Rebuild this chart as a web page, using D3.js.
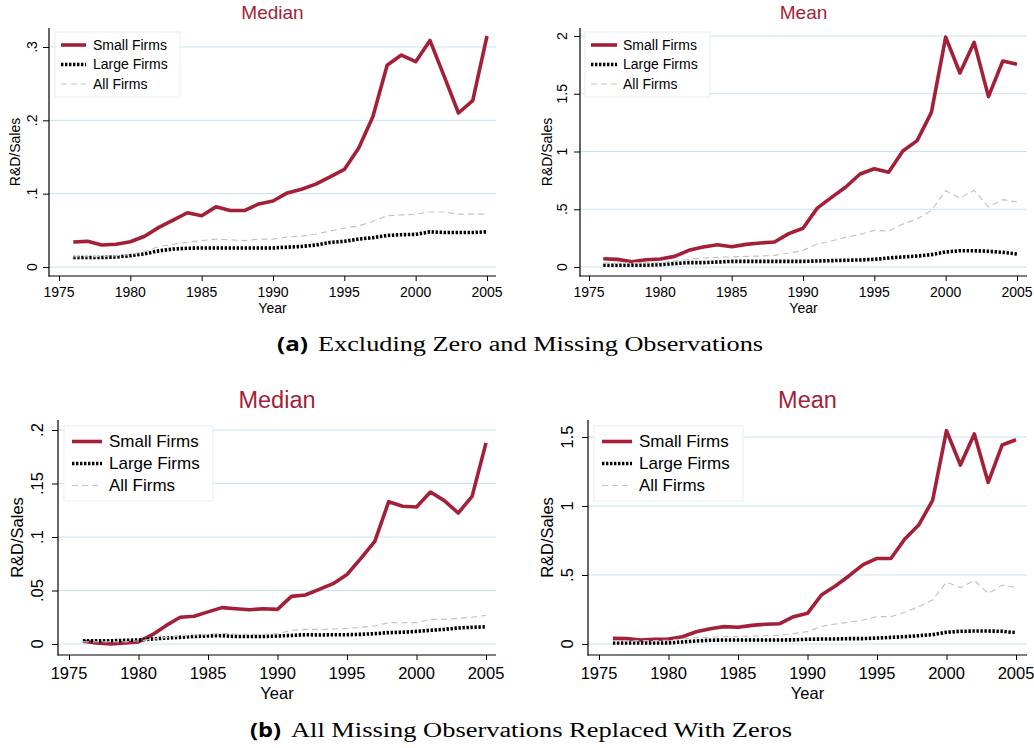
<!DOCTYPE html>
<html>
<head>
<meta charset="utf-8">
<script src="https://cdn.jsdelivr.net/npm/d3@7"></script>
<style>
  body { margin: 0; background: #fff; }
  svg { display: block; }
</style>
</head>
<body>
<div id="container"></div>
<script>
// values, one row per year
let years = [1976, 1977, 1978, 1979, 1980, 1981, 1982, 1983, 1984, 1985,
             1986, 1987, 1988, 1989, 1990, 1991, 1992, 1993, 1994, 1995,
             1996, 1997, 1998, 1999, 2000, 2001, 2002, 2003, 2004, 2005];

let seriesNames = ["Small Firms", "Large Firms", "All Firms"];
let xTicks = [1975, 1980, 1985, 1990, 1995, 2000, 2005];

// (a) excluding zero and missing
let medExclSmall = [0.034, 0.035, 0.030, 0.031, 0.0345, 0.042, 0.054, 0.064, 0.074, 0.070,
                    0.082, 0.077, 0.077, 0.086, 0.090, 0.101, 0.106, 0.113, 0.123, 0.133,
                    0.162, 0.205, 0.275, 0.289, 0.280, 0.309, 0.260, 0.210, 0.227, 0.315];
let medExclLarge = [0.013, 0.013, 0.013, 0.0136, 0.0155, 0.018, 0.022, 0.0245, 0.0255, 0.026,
                    0.026, 0.026, 0.026, 0.026, 0.026, 0.027, 0.028, 0.030, 0.0335, 0.035,
                    0.038, 0.040, 0.043, 0.044, 0.0445, 0.048, 0.047, 0.047, 0.047, 0.048];
let medExclAll   = [0.014, 0.014, 0.0145, 0.0155, 0.017, 0.021, 0.028, 0.031, 0.0335, 0.036,
                    0.038, 0.037, 0.036, 0.038, 0.038, 0.041, 0.042, 0.045, 0.049, 0.053,
                    0.056, 0.062, 0.070, 0.071, 0.072, 0.075, 0.075, 0.072, 0.072, 0.072];

let meanExclSmall = [0.072, 0.066, 0.046, 0.063, 0.069, 0.092, 0.144, 0.173, 0.193, 0.176,
                     0.196, 0.208, 0.216, 0.289, 0.335, 0.510, 0.603, 0.693, 0.805, 0.851,
                     0.820, 1.004, 1.094, 1.339, 1.990, 1.680, 1.945, 1.475, 1.783, 1.755];
let meanExclLarge = [0.015, 0.015, 0.015, 0.016, 0.020, 0.030, 0.038, 0.038, 0.043, 0.049,
                     0.049, 0.049, 0.049, 0.049, 0.049, 0.052, 0.055, 0.058, 0.061, 0.066,
                     0.078, 0.087, 0.095, 0.107, 0.130, 0.141, 0.141, 0.136, 0.127, 0.113];
let meanExclAll   = [0.035, 0.032, 0.038, 0.035, 0.038, 0.052, 0.066, 0.078, 0.084, 0.087,
                     0.092, 0.095, 0.100, 0.121, 0.144, 0.199, 0.225, 0.257, 0.283, 0.317,
                     0.312, 0.372, 0.416, 0.490, 0.661, 0.597, 0.664, 0.520, 0.583, 0.563];

// (b) missing replaced with zeros
let medZeroSmall = [0.0025, 0.001, 0.0, 0.001, 0.002, 0.0087, 0.0174, 0.025, 0.026, 0.030,
                    0.034, 0.033, 0.032, 0.033, 0.0324, 0.0445, 0.0458, 0.051, 0.0564, 0.065,
                    0.080, 0.096, 0.133, 0.1287, 0.128, 0.142, 0.134, 0.1224, 0.138, 0.188];
let medZeroLarge = [0.003, 0.003, 0.003, 0.0034, 0.0037, 0.0047, 0.0056, 0.0062, 0.007, 0.0075,
                    0.0078, 0.007, 0.007, 0.007, 0.0075, 0.008, 0.0087, 0.0084, 0.0087, 0.0087,
                    0.009, 0.0097, 0.0106, 0.011, 0.0118, 0.0128, 0.0137, 0.015, 0.0156, 0.016];
let medZeroAll   = [0.002, 0.002, 0.002, 0.002, 0.003, 0.0044, 0.0062, 0.0078, 0.0084, 0.009,
                    0.010, 0.0093, 0.009, 0.009, 0.0097, 0.0128, 0.0137, 0.0137, 0.014, 0.0146,
                    0.0156, 0.0168, 0.020, 0.020, 0.020, 0.023, 0.023, 0.024, 0.025, 0.0268];

let meanZeroSmall = [0.041, 0.039, 0.029, 0.034, 0.036, 0.053, 0.089, 0.111, 0.126, 0.121,
                     0.135, 0.143, 0.147, 0.198, 0.222, 0.355, 0.420, 0.495, 0.575, 0.620,
                     0.620, 0.761, 0.862, 1.041, 1.546, 1.297, 1.522, 1.171, 1.442, 1.480];
let meanZeroLarge = [0.007, 0.007, 0.007, 0.007, 0.008, 0.015, 0.022, 0.027, 0.029, 0.029,
                     0.029, 0.029, 0.029, 0.030, 0.034, 0.036, 0.036, 0.039, 0.039, 0.043,
                     0.048, 0.053, 0.060, 0.068, 0.085, 0.092, 0.094, 0.094, 0.092, 0.082];
let meanZeroAll   = [0.024, 0.022, 0.024, 0.024, 0.027, 0.036, 0.046, 0.048, 0.053, 0.053,
                     0.058, 0.060, 0.063, 0.075, 0.089, 0.128, 0.145, 0.159, 0.174, 0.198,
                     0.198, 0.230, 0.270, 0.319, 0.449, 0.408, 0.461, 0.367, 0.425, 0.410];

let yTicksMedExcl  = [0, 0.1, 0.2, 0.3];
let yTicksMeanExcl = [0, 0.5, 1, 1.5, 2];
let yTicksMedZero  = [0, 0.05, 0.1, 0.15, 0.2];
let yTicksMeanZero = [0, 0.5, 1, 1.5];

let captionA = ["(a)", "Excluding Zero and Missing Observations"];
let captionB = ["(b)", "All Missing Observations Replaced With Zeros"];

// ---- layout ----
let svgWidth = 1034, svgHeight = 748;
let red = "#a41f38";
let gridColor = "#c9e3ee";

let viz = d3.select("#container")
  .append("svg")
    .attr("width", svgWidth)
    .attr("height", svgHeight)
    .style("font-family", "'Liberation Sans', Arial, sans-serif");

// axis / plot geometry of each panel, px
let panels = [
  {title: "Median", s: medExclSmall, l: medExclLarge, a: medExclAll, ticks: yTicksMedExcl,
   axisX: 49, right: 496, top: 28, bottom: 276, x0: 59, x1: 487, y0: 267, y1: 47,
   tickLab: 32, yTitle: 15, titleY: 19, tickY: 297, yearY: 313,
   fs: 14, titleFs: 19, legFs: 14, leg: {x: 55, y: 32, w: 125, h: 65, dy: 19.5, lx: 61, lw: 25, tx: 93}},
  {title: "Mean", s: meanExclSmall, l: meanExclLarge, a: meanExclAll, ticks: yTicksMeanExcl,
   axisX: 580, right: 1027, top: 28, bottom: 276, x0: 589, x1: 1017, y0: 267, y1: 36,
   tickLab: 562, yTitle: 547, titleY: 19, tickY: 297, yearY: 313,
   fs: 14, titleFs: 19, legFs: 14, leg: {x: 585, y: 32, w: 125, h: 65, dy: 19.5, lx: 591, lw: 26, tx: 623}},
  {title: "Median", s: medZeroSmall, l: medZeroLarge, a: medZeroAll, ticks: yTicksMedZero,
   axisX: 58, right: 496, top: 420, bottom: 655, x0: 69, x1: 486, y0: 644, y1: 430,
   tickLab: 37, yTitle: 17, titleY: 408, tickY: 679, yearY: 699,
   fs: 16.5, titleFs: 23.5, legFs: 17, leg: {x: 64, y: 426, w: 149, h: 75, dy: 22, lx: 72, lw: 30, tx: 109}},
  {title: "Mean", s: meanZeroSmall, l: meanZeroLarge, a: meanZeroAll, ticks: yTicksMeanZero,
   axisX: 588, right: 1027, top: 420, bottom: 655, x0: 599, x1: 1016, y0: 644, y1: 437,
   tickLab: 567, yTitle: 547, titleY: 408, tickY: 679, yearY: 699,
   fs: 16.5, titleFs: 23.5, legFs: 17, leg: {x: 594, y: 426, w: 149, h: 75, dy: 22, lx: 602, lw: 30, tx: 639}}
];

let styles = [
  {stroke: red, width: 3.6, dash: null},
  {stroke: "#000", width: 3.6, dash: "2.4 1.6"},
  {stroke: "#c4c4c4", width: 1.2, dash: "6 4"}
];

// stata style: ".1" instead of "0.1"
function stataFmt(d) {
  if (d === 0) return "0";
  return String(d).replace(/^0\./, ".");
}

panels.forEach(function(p) {
  let g = viz.append("g");
  let x = d3.scaleLinear().domain([1975, 2005]).range([p.x0, p.x1]);
  let top = p.ticks[p.ticks.length - 1];
  let y = d3.scaleLinear().domain([0, top]).range([p.y0, p.y1]);

  // gridlines
  g.selectAll(".grid").data(p.ticks).enter().append("line")
    .attr("x1", p.axisX).attr("x2", p.right)
    .attr("y1", d => y(d)).attr("y2", d => y(d))
    .attr("stroke", gridColor).attr("stroke-width", 1);

  // series
  let line = d3.line().x((d, i) => x(years[i])).y(d => y(d));
  [p.s, p.l, p.a].forEach(function(vals, k) {
    g.append("path")
      .attr("d", line(vals))
      .attr("fill", "none")
      .attr("stroke", styles[k].stroke)
      .attr("stroke-width", styles[k].width)
      .attr("stroke-dasharray", styles[k].dash)
      .attr("stroke-linejoin", "round");
  });

  // axes
  let yAxis = g.append("g")
    .attr("transform", "translate(" + p.axisX + ",0)")
    .call(d3.axisLeft(y).tickValues(p.ticks).tickSize(6).tickFormat(""));
  yAxis.select(".domain").remove();
  let xAxis = g.append("g")
    .attr("transform", "translate(0," + p.bottom + ")")
    .call(d3.axisBottom(x).tickValues(xTicks).tickSize(5).tickFormat(""));
  xAxis.select(".domain").remove();
  g.selectAll(".tick line").attr("stroke", "#000").attr("stroke-width", 1);

  g.append("line").attr("x1", p.axisX).attr("x2", p.axisX)
    .attr("y1", p.top).attr("y2", p.bottom + 0.5)
    .attr("stroke", "#000").attr("stroke-width", 1.2);
  g.append("line").attr("x1", p.axisX - 0.5).attr("x2", p.right)
    .attr("y1", p.bottom).attr("y2", p.bottom)
    .attr("stroke", "#000").attr("stroke-width", 1.2);

  // tick labels (y labels are vertical in stata)
  g.selectAll(".ylab").data(p.ticks).enter().append("text")
    .attr("transform", d => "translate(" + p.tickLab + "," + y(d) + ") rotate(-90)")
    .attr("text-anchor", "middle")
    .attr("dy", "0.35em")
    .attr("font-size", p.fs)
    .text(stataFmt);
  g.selectAll(".xlab").data(xTicks).enter().append("text")
    .attr("x", d => x(d)).attr("y", p.tickY)
    .attr("text-anchor", "middle")
    .attr("font-size", p.fs)
    .text(d => d);

  // axis titles
  let midX = (p.axisX + p.right) / 2;
  g.append("text")
    .attr("x", midX).attr("y", p.yearY)
    .attr("text-anchor", "middle").attr("font-size", p.fs)
    .text("Year");
  g.append("text")
    .attr("transform", "translate(" + p.yTitle + "," + ((p.top + p.bottom) / 2) + ") rotate(-90)")
    .attr("text-anchor", "middle").attr("dy", "0.35em")
    .attr("font-size", p.fs)
    .text("R&D/Sales");

  g.append("text")
    .attr("x", midX).attr("y", p.titleY)
    .attr("text-anchor", "middle").attr("font-size", p.titleFs)
    .attr("fill", red)
    .text(p.title);

  // legend
  let L = p.leg;
  g.append("rect")
    .attr("x", L.x).attr("y", L.y).attr("width", L.w).attr("height", L.h)
    .attr("fill", "#fff").attr("stroke", "#e6eef2").attr("stroke-width", 1);
  seriesNames.forEach(function(name, k) {
    let cy = L.y + L.h / 2 + (k - 1) * L.dy;
    g.append("line")
      .attr("x1", L.lx).attr("x2", L.lx + L.lw)
      .attr("y1", cy).attr("y2", cy)
      .attr("stroke", styles[k].stroke)
      .attr("stroke-width", styles[k].width)
      .attr("stroke-dasharray", styles[k].dash);
    g.append("text")
      .attr("x", L.tx).attr("y", cy).attr("dy", "0.35em")
      .attr("font-size", p.legFs)
      .text(name);
  });
});

// sub-figure captions: bold sans label + wide serif text
function caption(parts, x0, labW, x1, x2, baseY) {
  viz.append("text")
    .attr("x", x0).attr("y", baseY)
    .attr("font-family", "'Open Sans', 'DejaVu Sans', sans-serif")
    .attr("font-weight", "bold")
    .attr("font-size", 20)
    .attr("textLength", labW)
    .attr("lengthAdjust", "spacingAndGlyphs")
    .text(parts[0]);
  viz.append("text")
    .attr("x", x1).attr("y", baseY)
    .attr("font-family", "'Liberation Serif', 'DejaVu Serif', serif")
    .attr("font-size", 20)
    .attr("textLength", x2 - x1)
    .attr("lengthAdjust", "spacingAndGlyphs")
    .text(parts[1]);
}
caption(captionA, 277, 31, 318, 763, 351);
caption(captionB, 250, 31, 291, 792, 737);
</script>
</body>
</html>
